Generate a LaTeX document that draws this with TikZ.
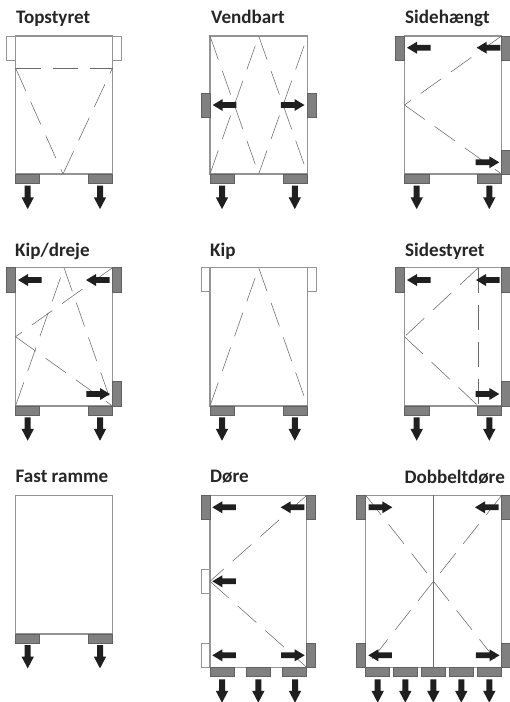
\documentclass[tikz,border=0pt]{standalone}
\usepackage{fontspec}
\setmainfont{Carlito}
\tikzset{
  frameline/.style={draw=black!42,line width=1.15pt,fill=white},
  flap/.style={draw=black!42,line width=1pt,fill=white},
  grip/.style={draw=black!62,line width=.8pt,fill=black!50},
  hinge/.style={draw=black!58,line width=.55pt,dash pattern=on 25pt off 12pt},
  solidmid/.style={draw=black!58,line width=.8pt},
  blockarrow/.style={fill=black!88,draw=none},
  title/.style={anchor=base west,inner sep=0pt,font=\fontsize{19.1}{20}\selectfont\bfseries,text=black!85}
}
% down arrow: x, top y
\newcommand{\arrD}[2]{\fill[blockarrow] (#1-3,#2) -- (#1+3,#2) -- (#1+3,#2+11.6) -- (#1+6.2,#2+11.6) -- (#1,#2+23.4) -- (#1-6.2,#2+11.6) -- (#1-3,#2+11.6) -- cycle;}
% left arrow: tip x, y
\newcommand{\arrL}[2]{\fill[blockarrow] (#1,#2) -- (#1+10,#2-6) -- (#1+10,#2-2.9) -- (#1+23.6,#2-2.9) -- (#1+23.6,#2+2.9) -- (#1+10,#2+2.9) -- (#1+10,#2+6) -- cycle;}
% right arrow: tip x, y
\newcommand{\arrR}[2]{\fill[blockarrow] (#1,#2) -- (#1-10,#2-6) -- (#1-10,#2-2.9) -- (#1-23.6,#2-2.9) -- (#1-23.6,#2+2.9) -- (#1-10,#2+2.9) -- (#1-10,#2+6) -- cycle;}
% vertical side piece: style, x left, y top
\newcommand{\sidep}[3]{\draw[#1] (#2,#3) rectangle (#2+9,#3+24.2);}
% bottom piece: x left, x right, y top
\newcommand{\botp}[3]{\draw[grip] (#1,#3) rectangle (#2,#3+9);}
\newcommand{\hingeln}[4]{\draw[hinge] (#1,#2) -- (#3,#4);}
\begin{document}
\begin{tikzpicture}[x=1pt,y=-1pt]
\useasboundingbox (0,0) rectangle (510,702);
\clip (0,0) rectangle (510,702);
% ---------- Topstyret
\node[title] (t1) at (16,23) {Topstyret};
\sidep{flap}{6.5}{36}\sidep{flap}{112.5}{36}
\draw[frameline] (15.5,36) rectangle (112.5,174);
\hingeln{15.5}{68}{112.5}{68}
\hingeln{15.5}{68}{63}{174}
\hingeln{63}{174}{112.5}{68}
\botp{15.5}{39.5}{174}\botp{88}{112.5}{174}
\arrD{27.7}{185.7}\arrD{100}{185.7}
% ---------- Vendbart
\node[title] (t2) at (211,23) {Vendbart};
\draw[frameline] (210,36) rectangle (307.5,174);
\hingeln{210}{36}{258.7}{174}
\hingeln{258.7}{36}{307.5}{174}
\hingeln{210}{174}{258.7}{36}
\hingeln{258.7}{174}{307.5}{36}
\sidep{grip}{201}{93}\sidep{grip}{307.5}{93}
\botp{210}{234.5}{174}\botp{283}{307.5}{174}
\arrL{212.7}{105}\arrR{304.5}{105}
\arrD{222}{185.7}\arrD{294.8}{185.7}
% ---------- Sidehaengt
\node[title] (t3) at (405,23) {Sidehængt};
\draw[frameline] (404.5,36) rectangle (501.5,174);
\hingeln{501.5}{36}{404.5}{105}
\hingeln{404.5}{105}{501.5}{174}
\sidep{grip}{395.5}{36}\sidep{grip}{501.5}{36}\sidep{grip}{501.5}{150}
\botp{404.5}{429}{174}\botp{477.5}{501.5}{174}
\arrL{407}{47.7}\arrL{476.7}{47.7}\arrR{499.3}{162.3}
\arrD{416.7}{185.7}\arrD{489.3}{185.7}
% ---------- Kip/dreje
\node[title] (t4) at (15,256.5) {Kip/dreje};
\draw[frameline] (15.5,267.7) rectangle (112.5,406);
\hingeln{112.5}{267.7}{15.5}{336.7}
\hingeln{15.5}{336.7}{112.5}{406}
\hingeln{15.5}{406}{64}{267.7}
\hingeln{64}{267.7}{112.5}{406}
\sidep{grip}{6.5}{267.7}\sidep{grip}{112.5}{267.7}\sidep{grip}{112.5}{381.7}
\botp{15.5}{39.5}{406}\botp{88}{112.5}{406}
\arrL{18}{280}\arrL{86}{280}\arrR{110}{394}
\arrD{27.7}{417.3}\arrD{100}{417.3}
% ---------- Kip
\node[title] (t5) at (210,256.5) {Kip};
\sidep{flap}{201}{267.7}\sidep{flap}{307.5}{267.7}
\draw[frameline] (210,267.7) rectangle (307.5,406);
\hingeln{210}{406}{258.7}{267.7}
\hingeln{258.7}{267.7}{307.5}{406}
\botp{210}{234.5}{406}\botp{283}{307.5}{406}
\arrD{222}{417.3}\arrD{294.8}{417.3}
% ---------- Sidestyret
\node[title] (t6) at (405,256.5) {Sidestyret};
\draw[frameline] (404.5,267.7) rectangle (501.5,406);
\hingeln{478.3}{267.7}{404.5}{336.7}
\hingeln{404.5}{336.7}{478.3}{406}
\hingeln{478.3}{267.7}{478.3}{406}
\sidep{grip}{395.5}{267.7}\sidep{grip}{501.5}{267.7}\sidep{grip}{501.5}{381.7}
\botp{404.5}{429}{406}\botp{477.5}{501.5}{406}
\arrL{407}{280}\arrL{476}{280}\arrR{499.3}{394}
\arrD{416.7}{417.3}\arrD{489.3}{417.3}
% ---------- Fast ramme
\node[title] (t7) at (15.5,482) {Fast ramme};
\draw[frameline] (15.5,495.3) rectangle (112.5,634);
\botp{15.5}{39.5}{634}\botp{88}{112.5}{634}
\arrD{27.7}{645}\arrD{100}{645}
% ---------- Doere
\node[title] (t8) at (210,482) {Døre};
\sidep{flap}{201}{569.3}\sidep{flap}{201}{643.1}
\draw[frameline] (210,495.3) rectangle (306.7,667.3);
\hingeln{306.7}{495.3}{210}{581.3}
\hingeln{210}{581.3}{306.7}{667.3}
\sidep{grip}{201}{495.3}\sidep{grip}{306.7}{495.3}\sidep{grip}{306.7}{643.1}
\botp{210}{234.5}{667.3}\botp{246}{270.7}{667.3}\botp{282.7}{306.7}{667.3}
\arrL{212.3}{507.3}\arrL{280.7}{507.3}\arrL{212.3}{581.3}\arrL{212.3}{655.3}\arrR{304.7}{655.3}
\arrD{222}{679.3}\arrD{258.3}{679.3}\arrD{295}{679.3}
% ---------- Dobbeltdoere
\node[title] (t9) at (404.3,483) {Dobbeltdøre};
\draw[frameline] (365.7,495.3) rectangle (501.7,667.3);
\draw[solidmid] (433.5,495.3) -- (433.5,667.3);
\hingeln{365.7}{495.3}{433.5}{581.3}
\hingeln{433.5}{581.3}{501.7}{667.3}
\hingeln{501.7}{495.3}{433.5}{581.3}
\hingeln{433.5}{581.3}{365.7}{667.3}
\sidep{grip}{356.7}{495.3}\sidep{grip}{501.7}{495.3}\sidep{grip}{356.7}{643.1}\sidep{grip}{501.7}{643.1}
\botp{365.7}{389.3}{667.3}\botp{393.3}{417.3}{667.3}\botp{421.3}{445.3}{667.3}\botp{449.3}{473.3}{667.3}\botp{477.3}{501.7}{667.3}
\arrR{392.3}{507.3}\arrL{475}{507.3}\arrL{368.3}{655.3}\arrR{499.5}{655.3}
\arrD{377.7}{679.3}\arrD{405.3}{679.3}\arrD{433.3}{679.3}\arrD{461.3}{679.3}\arrD{489.3}{679.3}
\end{tikzpicture}
\end{document}
